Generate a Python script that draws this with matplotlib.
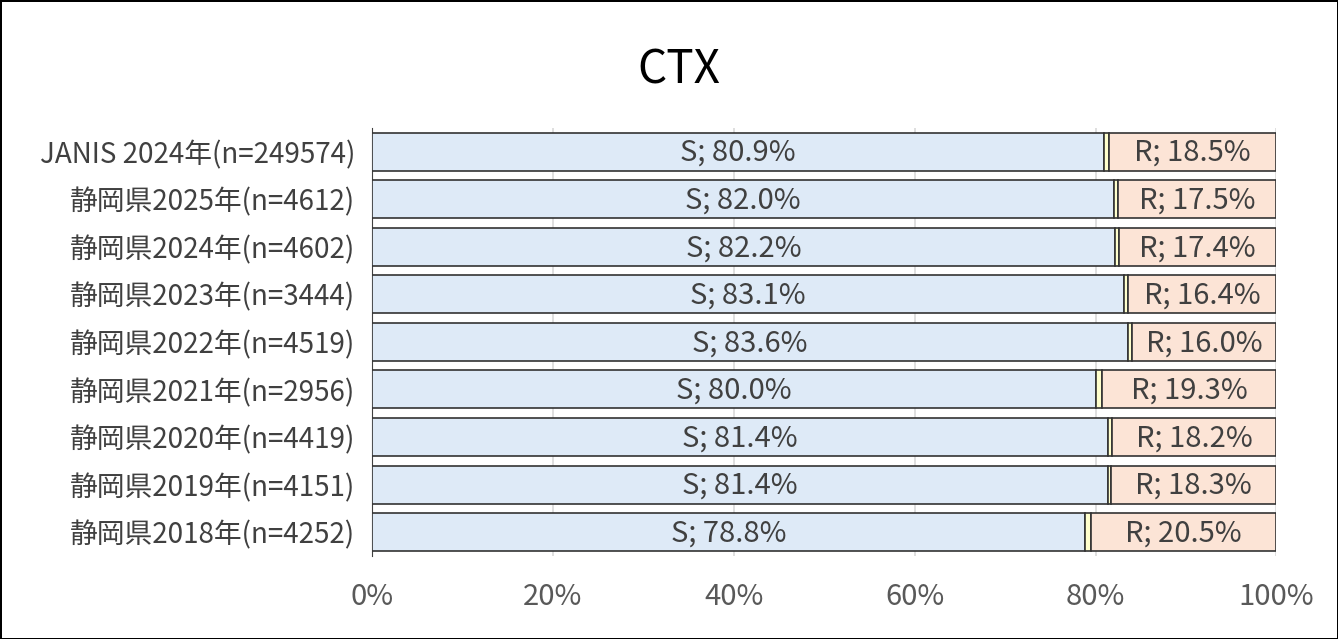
import numpy as np
import matplotlib
matplotlib.use('Agg')
import matplotlib.pyplot as plt

plt.rcParams['font.family'] = ['Noto Sans CJK JP', 'DejaVu Sans']


def plot_ctx():
    labels = ['JANIS 2024年(n=249574)', '静岡県2025年(n=4612)', '静岡県2024年(n=4602)',
              '静岡県2023年(n=3444)', '静岡県2022年(n=4519)', '静岡県2021年(n=2956)',
              '静岡県2020年(n=4419)', '静岡県2019年(n=4151)', '静岡県2018年(n=4252)']
    s_vals = np.array([80.9, 82.0, 82.2, 83.1, 83.6, 80.0, 81.4, 81.4, 78.8])
    r_vals = np.array([18.5, 17.5, 17.4, 16.4, 16.0, 19.3, 18.2, 18.3, 20.5])
    i_vals = 100 - s_vals - r_vals  # intermediate

    y = np.arange(len(labels))[::-1]

    fig = plt.figure(figsize=(13.38, 6.39), dpi=100)
    fig.patch.set_edgecolor('black')
    fig.patch.set_linewidth(2)
    ax = fig.add_axes([0.278, 0.130, 0.676, 0.670])

    plt.barh(y, s_vals, height=0.8, color='#DEEAF7', edgecolor='#333333', linewidth=1.2, zorder=3)
    plt.barh(y, i_vals, left=s_vals, height=0.8, color='#FFFFCC', edgecolor='#333333', linewidth=1.2, zorder=3)
    plt.barh(y, r_vals, left=s_vals + i_vals, height=0.8, color='#FCE4D6', edgecolor='#333333', linewidth=1.2, zorder=3)

    # data labels
    for yi, s, i, r in zip(y, s_vals, i_vals, r_vals):
        plt.text(s / 2, yi - 0.03, f'S; {s:.1f}%', ha='center', va='center', fontsize=21, color='#404040', zorder=4)
        plt.text(s + i + r / 2, yi - 0.03, f'R; {r:.1f}%', ha='center', va='center', fontsize=21, color='#404040', zorder=4)

    plt.xlim(0, 100)
    plt.ylim(-0.5, len(labels) - 0.5)
    plt.xticks(np.arange(0, 101, 20), [f'{v}%' for v in range(0, 101, 20)], fontsize=21, color='#595959')
    plt.yticks(y, labels, fontsize=20, color='#404040')
    ax.tick_params(axis='x', length=0, pad=19)
    ax.tick_params(axis='y', length=0, pad=12)
    ax.grid(axis='x', color='#D9D9D9', linewidth=1.2, zorder=0)
    for side in ['top', 'right', 'bottom']:
        ax.spines[side].set_visible(False)
    ax.spines['left'].set_color('#404040')

    fig.text(0.507, 0.89, 'CTX', fontsize=33, color='black', ha='center', va='center')

    plt.savefig('out.png', dpi=100)


if __name__ == "__main__":
    plot_ctx()
